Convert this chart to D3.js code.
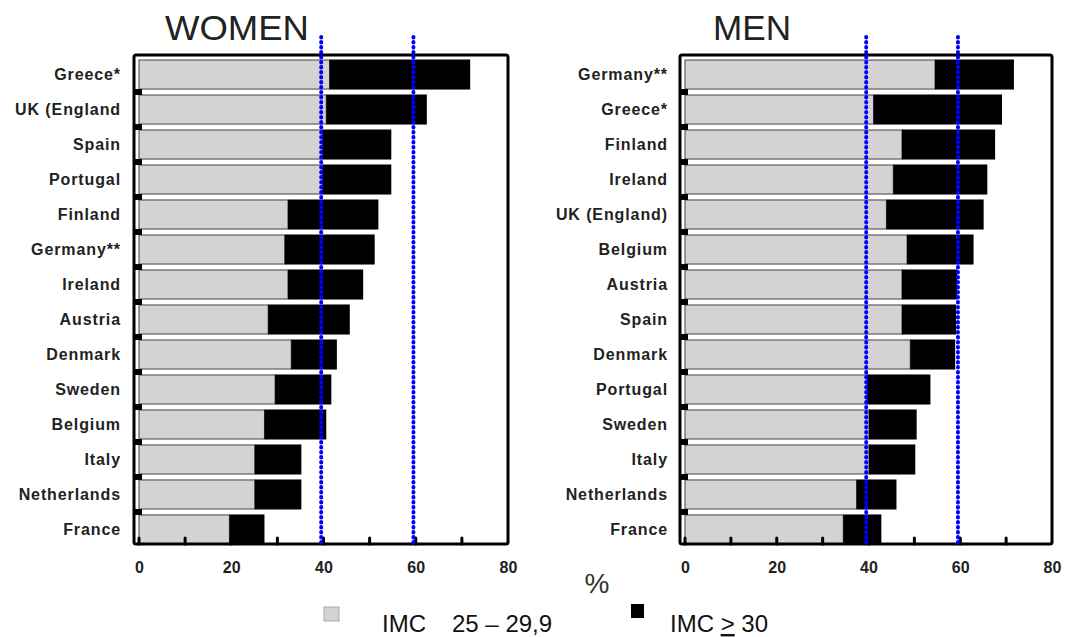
<!DOCTYPE html>
<html>
<head>
<meta charset="utf-8">
<script src="https://cdn.jsdelivr.net/npm/d3@7"></script>
<style>
    body { margin: 0; background: #fff; }
    svg { display: block; font-family: Arial, 'Liberation Sans', sans-serif; }
</style>
</head>
<body>
<div id="chart"></div>
<script>
const womenCountries = ['Greece*', 'UK (England', 'Spain', 'Portugal', 'Finland', 'Germany**', 'Ireland',
    'Austria ', 'Denmark', 'Sweden', 'Belgium', 'Italy', 'Netherlands', 'France']
const womenOverweight = [41.3, 40.6, 39.8, 39.8, 32.3, 31.6, 32.3, 28.0, 33.0, 29.5, 27.2, 25.1, 25.1, 19.6]
const womenObese = [30.5, 21.8, 14.9, 14.9, 19.6, 19.5, 16.3, 17.7, 9.9, 12.2, 13.4, 10.1, 10.1, 7.6]

const menCountries = ['Germany**', 'Greece*', 'Finland', 'Ireland', 'UK (England)', 'Belgium', 'Austria ',
    'Spain', 'Denmark', 'Portugal', 'Sweden', 'Italy', 'Netherlands', 'France']
const menOverweight = [54.5, 41.1, 47.3, 45.4, 43.9, 48.4, 47.3, 47.3, 49.1, 39.7, 40.1, 40.1, 37.4, 34.5]
const menObese = [17.2, 28.0, 20.3, 20.5, 21.2, 14.5, 12.0, 11.8, 9.8, 13.8, 10.4, 10.1, 8.7, 8.3]

const xTickLabels = [0, 20, 40, 60, 80]
const minorTicks = [0, 10, 20, 30, 40, 50, 60, 70]
const refLines = [39.5, 59.5]
const legendLabels = ['IMC', '25 \u2013 29,9', 'IMC ', '>', ' 30']

const width = 1066
const height = 637
const grey = '#d3d3d3'

const svg = d3.select('#chart').append('svg')
    .attr('width', width)
    .attr('height', height)

function drawPanel(cfg) {
    const x = d3.scaleLinear().domain([0, 80]).range(cfg.xRange)
    const y = d3.scaleBand().domain(cfg.countries).range([60, 544]).paddingInner(0.17)
    const g = svg.append('g')
    const frameLeft = x(0) - 5
    const frameTop = 55
    const frameBottom = 544

    // title
    g.append('text')
        .attr('x', cfg.titleX)
        .attr('y', 40)
        .attr('font-size', 35)
        .attr('fill', '#222')
        .attr('textLength', cfg.titleW)
        .attr('lengthAdjust', 'spacingAndGlyphs')
        .text(cfg.title)

    // bars
    const rows = g.selectAll('g.row')
        .data(cfg.countries.map((c, i) => ({ c, ow: cfg.overweight[i], ob: cfg.obese[i] })))
        .enter()
        .append('g')
        .attr('class', 'row')

    rows.append('rect')
        .attr('x', x(0))
        .attr('y', (d) => y(d.c))
        .attr('width', (d) => x(d.ow) - x(0))
        .attr('height', y.bandwidth())
        .attr('fill', grey)
        .attr('stroke', '#444')
        .attr('stroke-width', 1)

    rows.append('rect')
        .attr('x', (d) => x(d.ow))
        .attr('y', (d) => y(d.c) - 0.5)
        .attr('width', (d) => x(d.ow + d.ob) - x(d.ow))
        .attr('height', y.bandwidth() + 1)
        .attr('fill', '#000')

    // small marks in the gaps on the left edge
    rows.filter((d, i) => i > 0)
        .append('rect')
        .attr('x', frameLeft)
        .attr('y', (d) => y(d.c) - y.step() + y.bandwidth())
        .attr('width', 8)
        .attr('height', y.step() - y.bandwidth())
        .attr('fill', '#000')
    rows.filter((d, i) => i > 0)
        .append('rect')
        .attr('x', x(0) + 3)
        .attr('y', (d) => y(d.c) - y.step() + y.bandwidth() + 1.5)
        .attr('width', x(80) - x(0) - 6)
        .attr('height', y.step() - y.bandwidth() - 3)
        .attr('fill', '#fff')

    // country labels
    g.selectAll('text.country')
        .data(cfg.countries)
        .enter()
        .append('text')
        .attr('class', 'country')
        .attr('x', cfg.labelX)
        .attr('y', (d) => y(d) + y.bandwidth() / 2 + 5.5)
        .attr('text-anchor', 'end')
        .attr('font-size', 16)
        .attr('font-weight', 'bold')
        .attr('letter-spacing', 0.9)
        .attr('fill', '#222')
        .text((d) => d)

    // frame
    g.append('rect')
        .attr('x', frameLeft)
        .attr('y', frameTop)
        .attr('width', x(80) - frameLeft)
        .attr('height', frameBottom - frameTop)
        .attr('rx', 2)
        .attr('fill', 'none')
        .attr('stroke', '#000')
        .attr('stroke-width', 3)

    // inward ticks
    g.selectAll('line.tick')
        .data(minorTicks)
        .enter()
        .append('line')
        .attr('class', 'tick')
        .attr('x1', (d) => x(d))
        .attr('x2', (d) => x(d))
        .attr('y1', frameBottom)
        .attr('y2', frameBottom - 6)
        .attr('stroke', '#000')
        .attr('stroke-width', 3)
        .attr('stroke-linecap', 'round')

    // reference lines
    g.selectAll('line.ref')
        .data(refLines)
        .enter()
        .append('line')
        .attr('class', 'ref')
        .attr('x1', (d) => x(d))
        .attr('x2', (d) => x(d))
        .attr('y1', 37)
        .attr('y2', frameBottom)
        .attr('stroke', '#0000ff')
        .attr('stroke-width', 4)
        .attr('stroke-dasharray', '0.5 4.5')
        .attr('stroke-linecap', 'round')

    // axis labels
    const axis = d3.axisBottom(x).tickValues(xTickLabels).tickSize(0).tickPadding(0)
    const axisG = g.append('g')
        .attr('transform', `translate(0, ${frameBottom + 18})`)
        .call(axis)
    axisG.attr('font-size', 16)
        .attr('font-family', 'Arial, Liberation Sans, sans-serif')
    axisG.select('.domain').remove()
    axisG.selectAll('text')
        .attr('font-size', 16)
        .attr('font-weight', 'bold')
        .attr('fill', '#222')
        .attr('dy', '0.71em')
}

drawPanel({
    title: 'WOMEN', titleX: 165, titleW: 144, labelX: 121,
    countries: womenCountries, overweight: womenOverweight, obese: womenObese,
    xRange: [139, 508]
})

drawPanel({
    title: 'MEN', titleX: 713, titleW: 78, labelX: 668,
    countries: menCountries, overweight: menOverweight, obese: menObese,
    xRange: [685, 1052]
})

// percent sign
svg.append('text')
    .attr('x', 597)
    .attr('y', 593)
    .attr('text-anchor', 'middle')
    .attr('font-size', 28)
    .attr('fill', '#333')
    .text('%')

// legend
svg.append('rect')
    .attr('x', 324).attr('y', 607)
    .attr('width', 15).attr('height', 14)
    .attr('fill', grey)
    .attr('stroke', '#aaa')
    .attr('stroke-width', 1)

svg.append('text')
    .attr('x', 382).attr('y', 632)
    .attr('font-size', 24)
    .attr('fill', '#111')
    .text(legendLabels[0])

svg.append('text')
    .attr('x', 452).attr('y', 632)
    .attr('font-size', 24)
    .attr('fill', '#111')
    .text(legendLabels[1])

svg.append('rect')
    .attr('x', 631).attr('y', 604)
    .attr('width', 13).attr('height', 14)
    .attr('fill', '#000')

const lg = svg.append('text')
    .attr('x', 670).attr('y', 632)
    .attr('font-size', 24)
    .attr('fill', '#111')
    .attr('xml:space', 'preserve')
lg.append('tspan').text(legendLabels[2])
lg.append('tspan').attr('text-decoration', 'underline').text(legendLabels[3])
lg.append('tspan').text(legendLabels[4])
</script>
</body>
</html>
